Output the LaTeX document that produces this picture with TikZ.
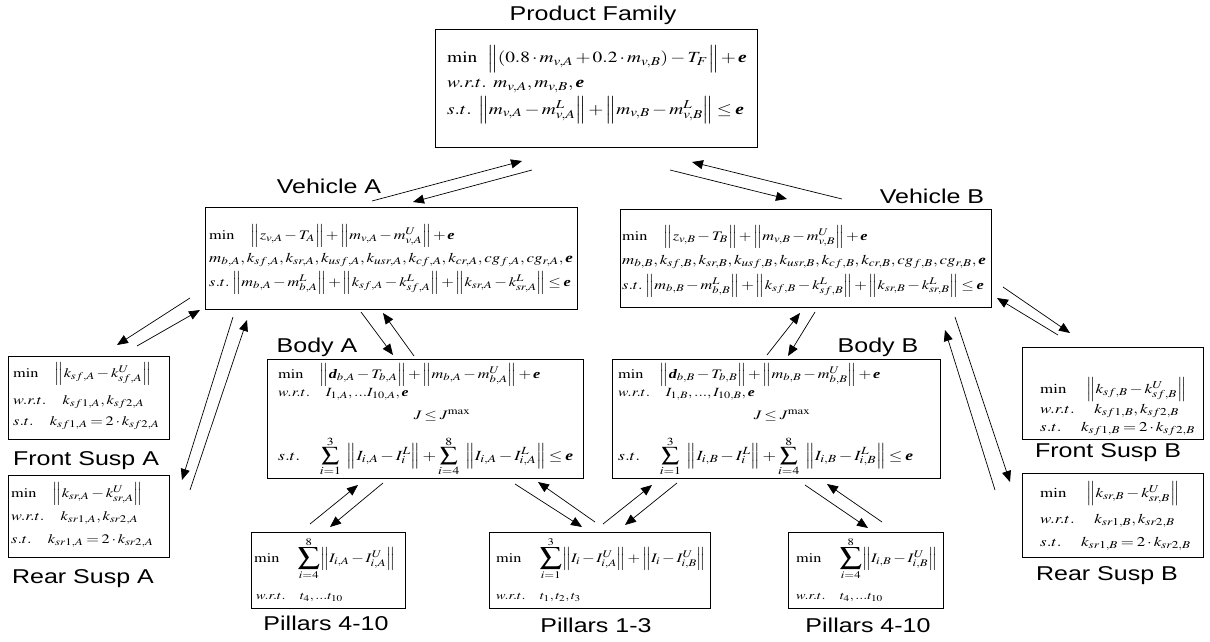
\documentclass[tikz,border=0pt]{standalone}
\usepackage{amsmath}
\usepackage{mathptmx}
\usepackage[no-math]{fontspec}
\setmainfont{Liberation Serif}
\newfontfamily\labfont{Liberation Sans}
\usepackage{graphicx}
\usetikzlibrary{arrows.meta}
\renewcommand{\defaultscriptratio}{.78}
\renewcommand{\defaultscriptscriptratio}{.6}
\newcommand{\ebold}{\mbox{\bfseries\itshape e}}
\newcommand{\dbold}{\mbox{\bfseries\itshape d}}
\newcommand{\stretchtxt}[1]{\scalebox{1.25}[1]{#1}}
\newcommand{\nrm}[1]{\Bigl\|#1\Bigr\|}
\newcommand{\bsum}{\mathop{\vcenter{\hbox{\scalebox{1.35}{$\displaystyle\sum$}}}}\limits}
\AtBeginDocument{\medmuskip=2mu\relax\thickmuskip=3mu\relax}
\tikzset{
  box/.style={draw, line width=0.9pt, inner sep=0pt},
  lab/.style={anchor=base, inner sep=0pt, font=\labfont\fontsize{20}{24}\selectfont},
  txt/.style={anchor=base west, inner sep=0pt},
  pftxt/.style={txt, font=\fontsize{15.5}{19}\selectfont},
  vtxt/.style={txt, font=\fontsize{13}{16}\selectfont},
  vltxt/.style={txt, font=\fontsize{13.5}{16}\selectfont},
  btxt/.style={txt, font=\fontsize{13}{16}\selectfont},
  bstxt/.style={txt, font=\fontsize{14}{16}\selectfont},
  bwtxt/.style={txt, font=\fontsize{12.5}{15}\selectfont},
  satxt/.style={txt, font=\fontsize{13}{16}\selectfont},
  sbtxt/.style={txt, font=\fontsize{13.5}{16}\selectfont},
  ptxt/.style={txt, font=\fontsize{13}{16}\selectfont},
  pwtxt/.style={txt, font=\fontsize{11.5}{14}\selectfont},
  arr/.style={-{Triangle[length=11pt,width=9pt]}, line width=0.7pt},
}
\begin{document}
\begin{tikzpicture}[x=1pt,y=1pt]
\useasboundingbox (0,0) rectangle (1210,-642);
% ---------- boxes ----------
\node[box, minimum width=322pt, minimum height=118pt] (pf)  at (596,-88) {};
\node[box, minimum width=372pt, minimum height=102pt] (va)  at (391,-258) {};
\node[box, minimum width=371pt, minimum height=98pt]  (vb)  at (805.5,-258) {};
\node[box, minimum width=161pt, minimum height=83pt]  (fsa) at (88.5,-397.5) {};
\node[box, minimum width=161pt, minimum height=82pt]  (rsa) at (88.5,-516) {};
\node[box, minimum width=316pt, minimum height=119pt] (ba)  at (425,-418.5) {};
\node[box, minimum width=328pt, minimum height=119pt] (bb)  at (776,-418.5) {};
\node[box, minimum width=181pt, minimum height=92pt]  (fsb) at (1112.5,-393) {};
\node[box, minimum width=181pt, minimum height=84pt]  (rsb) at (1112.5,-515) {};
\node[box, minimum width=154pt, minimum height=76pt]  (pa)  at (328,-570) {};
\node[box, minimum width=221pt, minimum height=76pt]  (p13) at (599.5,-570) {};
\node[box, minimum width=155pt, minimum height=76pt]  (pb)  at (865.5,-570) {};
% ---------- labels ----------
\node[lab] (lpf)  at (593,-21)  {\stretchtxt{Product Family}};
\node[lab] (lva)  at (329,-193) {\stretchtxt{Vehicle A}};
\node[lab] (lvb)  at (932,-203) {\stretchtxt{Vehicle B}};
\node[lab] (lba)  at (317,-352) {\stretchtxt{Body A}};
\node[lab] (lbb)  at (878,-352) {\stretchtxt{Body B}};
\node[lab] (lfsa) at (86,-465)  {\stretchtxt{Front Susp A}};
\node[lab] (lrsa) at (83,-583)  {\stretchtxt{Rear Susp A}};
\node[lab] (lfsb) at (1108,-457) {\stretchtxt{Front Susp B}};
\node[lab] (lrsb) at (1107,-580) {\stretchtxt{Rear Susp B}};
\node[lab] (lpa)  at (326,-630) {\stretchtxt{Pillars 4-10}};
\node[lab] (lp13) at (596,-632) {\stretchtxt{Pillars 1-3}};
\node[lab] (lpb)  at (868,-632) {\stretchtxt{Pillars 4-10}};
% ---------- Product family ----------
\node[pftxt] (pf1) at (447,-63) {\stretchtxt{$\min\;\;\; \nrm{(0.8\cdot m_{v,A}+0.2\cdot m_{v,B})-T_F}+\ebold$}};
\node[pftxt] (pf2) at (447,-88) {\stretchtxt{$w.r.t.\;\; m_{v,A},m_{v,B},\ebold$}};
\node[pftxt] (pf3) at (447,-114) {\stretchtxt{$s.t.\;\; \nrm{m_{v,A}-m^L_{v,A}}+\nrm{m_{v,B}-m^L_{v,B}}\le\ebold$}};
% ---------- Vehicle A ----------
\node[vtxt] (va1) at (209,-239) {\stretchtxt{$\min\quad \nrm{z_{v,A}-T_A}+\nrm{m_{v,A}-m^U_{v,A}}+\ebold$}};
\node[vltxt] (va2) at (209,-262) {\stretchtxt{$m_{b,A},k_{sf,A},k_{sr,A},k_{usf,A},k_{usr,A},k_{cf,A},k_{cr,A},cg_{f,A},cg_{r,A},\ebold$}};
\node[vtxt] (va3) at (209,-286) {\stretchtxt{$s.t.\;\nrm{m_{b,A}-m^L_{b,A}}+\nrm{k_{sf,A}-k^L_{sf,A}}+\nrm{k_{sr,A}-k^L_{sr,A}}\le\ebold$}};
% ---------- Vehicle B ----------
\node[vtxt] (vb1) at (622,-240) {\stretchtxt{$\min\quad \nrm{z_{v,B}-T_B}+\nrm{m_{v,B}-m^U_{v,B}}+\ebold$}};
\node[vltxt] (vb2) at (622,-264) {\stretchtxt{$m_{b,B},k_{sf,B},k_{sr,B},k_{usf,B},k_{usr,B},k_{cf,B},k_{cr,B},cg_{f,B},cg_{r,B},\ebold$}};
\node[vtxt] (vb3) at (622,-289) {\stretchtxt{$s.t.\;\nrm{m_{b,B}-m^L_{b,B}}+\nrm{k_{sf,B}-k^L_{sf,B}}+\nrm{k_{sr,B}-k^L_{sr,B}}\le\ebold$}};
% ---------- Front / Rear Susp A ----------
\node[satxt] (fsa1) at (13,-377) {\stretchtxt{$\min\quad \nrm{k_{sf,A}-k^U_{sf,A}}$}};
\node[satxt] (fsa2) at (13,-404) {\stretchtxt{$w.r.t.\quad k_{sf1,A},k_{sf2,A}$}};
\node[satxt] (fsa3) at (13,-425) {\stretchtxt{$s.t.\quad k_{sf1,A}=2\cdot k_{sf2,A}$}};
\node[satxt] (rsa1) at (11,-497) {\stretchtxt{$\min\quad \nrm{k_{sr,A}-k^U_{sr,A}}$}};
\node[satxt] (rsa2) at (11,-520) {\stretchtxt{$w.r.t.\quad k_{sr1,A},k_{sr2,A}$}};
\node[satxt] (rsa3) at (11,-543) {\stretchtxt{$s.t.\quad k_{sr1,A}=2\cdot k_{sr2,A}$}};
% ---------- Front / Rear Susp B ----------
\node[sbtxt] (fsb1) at (1040,-393) {\stretchtxt{$\min\quad\; \nrm{k_{sf,B}-k^U_{sf,B}}$}};
\node[sbtxt] (fsb2) at (1040,-413) {\stretchtxt{$w.r.t.\quad\; k_{sf1,B},k_{sf2,B}$}};
\node[sbtxt] (fsb3) at (1040,-431) {\stretchtxt{$s.t.\quad\; k_{sf1,B}=2\cdot k_{sf2,B}$}};
\node[sbtxt] (rsb1) at (1040,-497) {\stretchtxt{$\min\quad\; \nrm{k_{sr,B}-k^U_{sr,B}}$}};
\node[sbtxt] (rsb2) at (1040,-523) {\stretchtxt{$w.r.t.\quad\; k_{sr1,B},k_{sr2,B}$}};
\node[sbtxt] (rsb3) at (1040,-546) {\stretchtxt{$s.t.\quad\; k_{sr1,B}=2\cdot k_{sr2,B}$}};
% ---------- Body A ----------
\node[btxt] (ba1) at (278,-378) {\stretchtxt{$\min\quad \nrm{\dbold_{b,A}-T_{b,A}}+\nrm{m_{b,A}-m^U_{b,A}}+\ebold$}};
\node[bwtxt] (ba2) at (278,-396) {\stretchtxt{$w.r.t.\quad I_{1,A},...I_{10,A},\ebold$}};
\node[btxt, anchor=base] (ba3) at (442,-419) {\stretchtxt{$J\le J^{\max}$}};
\node[bstxt] (ba4) at (278,-460) {\stretchtxt{$s.t.\quad \displaystyle\sum_{i=1}^{3}\;\;\nrm{I_{i,A}-I^L_{i}}+\sum_{i=4}^{8}\;\;\nrm{I_{i,A}-I^L_{i,A}}\le\ebold$}};
% ---------- Body B ----------
\node[btxt] (bb1) at (618,-378) {\stretchtxt{$\min\quad \nrm{\dbold_{b,B}-T_{b,B}}+\nrm{m_{b,B}-m^U_{b,B}}+\ebold$}};
\node[bwtxt] (bb2) at (618,-396) {\stretchtxt{$w.r.t.\quad I_{1,B},...,I_{10,B},\ebold$}};
\node[btxt, anchor=base] (bb3) at (782,-419) {\stretchtxt{$J\le J^{\max}$}};
\node[bstxt] (bb4) at (618,-460) {\stretchtxt{$s.t.\quad \displaystyle\sum_{i=1}^{3}\;\;\nrm{I_{i,B}-I^L_{i}}+\sum_{i=4}^{8}\;\;\nrm{I_{i,B}-I^L_{i,B}}\le\ebold$}};
% ---------- Pillars ----------
\node[ptxt] (pa1) at (254,-562) {\stretchtxt{$\min\quad \bsum_{i=4}^{8}\nrm{I_{i,A}-I^U_{i,A}}$}};
\node[pwtxt] (pa2) at (256,-599) {\stretchtxt{$w.r.t.\quad t_4,...t_{10}$}};
\node[ptxt] (p131) at (496,-562) {\stretchtxt{$\min\quad \bsum_{i=1}^{3}\nrm{I_{i}-I^U_{i,A}}+\nrm{I_{i}-I^U_{i,B}}$}};
\node[pwtxt] (p132) at (496,-599) {\stretchtxt{$w.r.t.\quad t_1,t_2,t_3$}};
\node[ptxt] (pb1) at (796,-562) {\stretchtxt{$\min\quad \bsum_{i=4}^{8}\nrm{I_{i,B}-I^U_{i,B}}$}};
\node[pwtxt] (pb2) at (796,-599) {\stretchtxt{$w.r.t.\quad t_4,...t_{10}$}};
% ---------- connector end points ----------
\coordinate (a1s) at (372,-201);  \coordinate (a1t) at (522,-161);
\coordinate (a2s) at (532,-170);  \coordinate (a2t) at (413,-202);
\coordinate (a3s) at (670,-170);  \coordinate (a3t) at (787,-199);
\coordinate (a4s) at (842,-199);  \coordinate (a4t) at (692,-162);
\coordinate (a5s) at (190,-298);  \coordinate (a5t) at (117,-345);
\coordinate (a6s) at (137,-346);  \coordinate (a6t) at (200,-310);
\coordinate (a7s) at (233,-317);  \coordinate (a7t) at (182,-480);
\coordinate (a8s) at (190,-490);  \coordinate (a8t) at (247,-320);
\coordinate (a9s) at (361,-312);  \coordinate (a9t) at (393,-355);
\coordinate (a10s) at (414,-356); \coordinate (a10t) at (383,-313);
\coordinate (a11s) at (767,-355); \coordinate (a11t) at (800,-313);
\coordinate (a12s) at (815,-312); \coordinate (a12t) at (788,-356);
\coordinate (a13s) at (955,-317); \coordinate (a13t) at (1010,-482);
\coordinate (a14s) at (995,-490); \coordinate (a14t) at (945,-330);
\coordinate (a15s) at (1003,-287); \coordinate (a15t) at (1070,-333);
\coordinate (a16s) at (1058,-335); \coordinate (a16t) at (997,-298);
\coordinate (a17s) at (310,-524); \coordinate (a17t) at (358,-485);
\coordinate (a18s) at (383,-483); \coordinate (a18t) at (330,-527);
\coordinate (a19s) at (515,-484); \coordinate (a19t) at (582,-527);
\coordinate (a20s) at (595,-522); \coordinate (a20t) at (538,-482);
\coordinate (a21s) at (603,-524); \coordinate (a21t) at (652,-485);
\coordinate (a22s) at (677,-483); \coordinate (a22t) at (625,-525);
\coordinate (a23s) at (805,-485); \coordinate (a23t) at (868,-528);
\coordinate (a24s) at (882,-522); \coordinate (a24t) at (827,-484);
\foreach \i in {1,...,24}{\draw[arr] (a\i s) -- (a\i t);}
\end{tikzpicture}
\end{document}
